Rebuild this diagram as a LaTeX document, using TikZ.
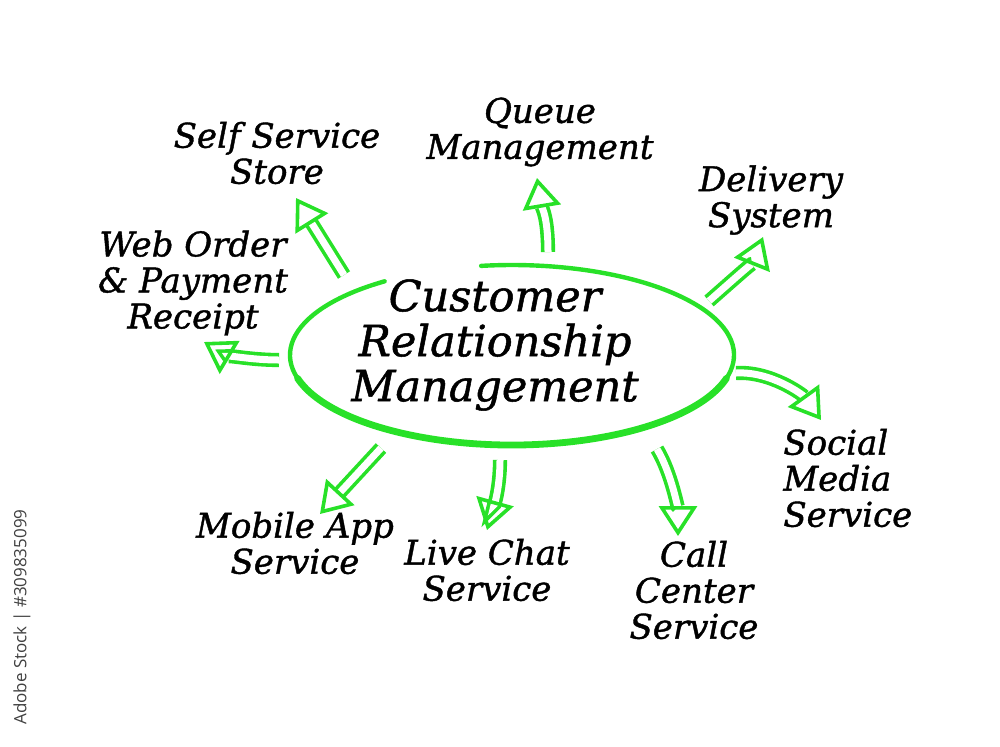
\documentclass[tikz,border=0pt]{standalone}
\usepackage{fontspec}
\setmainfont{DejaVu Serif}[FakeBold=1.2]
\newfontfamily\stockfont{Open Sans}
\usetikzlibrary{
    arrows.meta,
    positioning
}
\definecolor{crmgreen}{RGB}{40,225,40}

\begin{document}
\begin{tikzpicture}[
    x=0.5pt,
    y=-0.5pt,
    label/.style = {
        align=center,
        inner sep=0pt,
        font=\fontsize{17}{18}\selectfont\itshape
    },
    centre/.style = {
        align=center,
        inner sep=0pt,
        font=\fontsize{21.5}{22.5}\selectfont\itshape
    },
    hollow/.style = {
        draw=crmgreen,
        line width=1.8pt,
        double=white,
        double distance=3.5pt,
        -{Triangle[open,length=15pt,width=19pt]}
    },
    ring/.style = {
        crmgreen,
        line cap=round
    },
]
    \useasboundingbox (0,0) rectangle (1000,746);

    % Centre
    \node [centre] (crm) at (495,345)
        {Customer\\ Relationship\\ Management};
    \coordinate (ring_c) at (512,355);
    \draw [ring, line width=2.2pt] (ring_c) ++(235:222 and 90)
        arc [start angle=235, end angle=-98, x radius=222, y radius=90];
    \draw [ring, line width=3.4pt] (ring_c) ++(165:222 and 90)
        arc [start angle=165, end angle=15, x radius=222, y radius=90];

    % Labels
    \node [label] (store)    at (277,153) {Self Service\\ Store};
    \node [label] (queue)    at (540,132) {Queue\\ Management};
    \node [label] (delivery) at (771,200) {Delivery\\ System};
    \node [label] (web)      at (193,283) {Web Order\\ \& Payment\\ Receipt};
    \node [label,align=left,anchor=west] (social) at (783,478)
        {Social\\ Media\\ Service};
    \node [label] (mobile)   at (295,543) {Mobile App\\ Service};
    \node [label] (livechat) at (487,570) {Live Chat\\ Service};
    \node [label] (call)     at (694,590) {Call\\ Center\\ Service};

    % Arrow ends
    \coordinate (store_tail)    at (344,275);
    \coordinate (store_tip)     at (296,198);
    \coordinate (queue_tail)    at (548,252);
    \coordinate (queue_tip)     at (537,178);
    \coordinate (delivery_tail) at (709,301);
    \coordinate (delivery_tip)  at (763,237);
    \coordinate (web_tail)      at (279,360);
    \coordinate (web_tip)       at (204,342);
    \coordinate (social_tail)   at (736,373);
    \coordinate (social_tip)    at (821,420);
    \coordinate (mobile_tail)   at (381,448);
    \coordinate (mobile_tip)    at (320,514);
    \coordinate (livechat_tail) at (500,460);
    \coordinate (livechat_tip)  at (487,530);
    \coordinate (call_tail)     at (657,449);
    \coordinate (call_tip)      at (678,536);

    \draw [hollow] (store_tail) -- (store_tip);
    \draw [hollow] (queue_tail)
        .. controls +(0,-35) and +(5,30) .. (queue_tip);
    \draw [hollow] (delivery_tail)
        .. controls +(25,-22) and +(-10,25) .. (delivery_tip);
    \draw [hollow] (web_tail)
        .. controls +(-30,0) and +(20,12) .. (web_tip);
    \draw [hollow] (social_tail)
        .. controls +(35,-2) and +(-18,-25) .. (social_tip);
    \draw [hollow] (mobile_tail) -- (mobile_tip);
    \draw [hollow] (livechat_tail)
        .. controls +(0,32) and +(5,-18) .. (livechat_tip);
    \draw [hollow] (call_tail)
        .. controls +(15,25) and +(0,-25) .. (call_tip);

    % Stock mark
    \node [rotate=90, text=black!75, inner sep=0pt,
           font=\stockfont\fontsize{8.5}{10}\selectfont]
        (stock) at (22,617) {Adobe Stock | \#309835099};
\end{tikzpicture}
\end{document}
